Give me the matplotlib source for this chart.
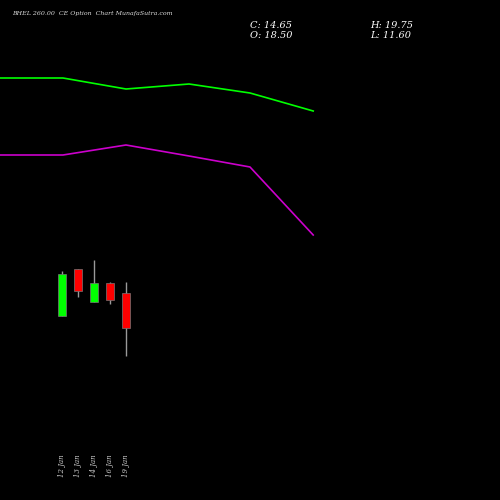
import matplotlib
matplotlib.use("Agg")
import matplotlib.pyplot as plt

dates = ["12 Jan", "13 Jan", "14 Jan", "16 Jan", "19 Jan"]
opens = [15.97, 21.14, 17.51, 19.60, 18.50]
closes = [20.59, 18.72, 19.60, 17.72, 14.65]
highs = [20.92, 21.14, 22.13, 19.71, 19.75]
lows = [15.97, 18.06, 17.51, 17.29, 11.60]
line_x = [-3.875, 0.06, 4.0, 7.94, 11.75, 15.7]
green_line = [42.15, 42.15, 40.94, 41.49, 40.50, 38.52]
magenta_line = [33.68, 33.68, 34.78, 33.57, 32.36, 24.88]

fig = plt.figure(figsize=(5, 5), dpi=100, facecolor="black")
ax = fig.add_axes([0, 0, 1, 1], facecolor="black")
ax.set_xlim(-3.875, 27.375)
ax.set_ylim(-4.27, 50.73)
ax.axis("off")

ax.plot(line_x, green_line, color="#00ff00", lw=1.2)
ax.plot(line_x, magenta_line, color="#cc00cc", lw=1.2)

for i, (o, c, h, l) in enumerate(zip(opens, closes, highs, lows)):
    col = "#00ff00" if c >= o else "#ff0000"
    ax.vlines(i, l, h, color="#999999", lw=1, zorder=1)
    ax.bar(i, abs(c - o), bottom=min(o, c), width=0.56, color=col,
           edgecolor="#777777", lw=0.5, zorder=2)
    ax.text(i, 0.8, dates[i], rotation=90, color="#cccccc", fontsize=5,
            family="DejaVu Serif", style="italic", ha="center", va="top")

kw = dict(color="white", fontsize=7, family="DejaVu Serif", style="italic", va="center")
fig.text(0.025, 0.972, "BHEL 260.00  CE Option  Chart MunafaSutra.com", color="#dddddd",
         fontsize=4.5, family="DejaVu Serif", style="italic", va="center")
fig.text(0.5, 0.950, "C: 14.65", **kw)
fig.text(0.5, 0.928, "O: 18.50", **kw)
fig.text(0.74, 0.950, "H: 19.75", **kw)
fig.text(0.74, 0.928, "L: 11.60", **kw)

fig.savefig("out.png", facecolor="black")
